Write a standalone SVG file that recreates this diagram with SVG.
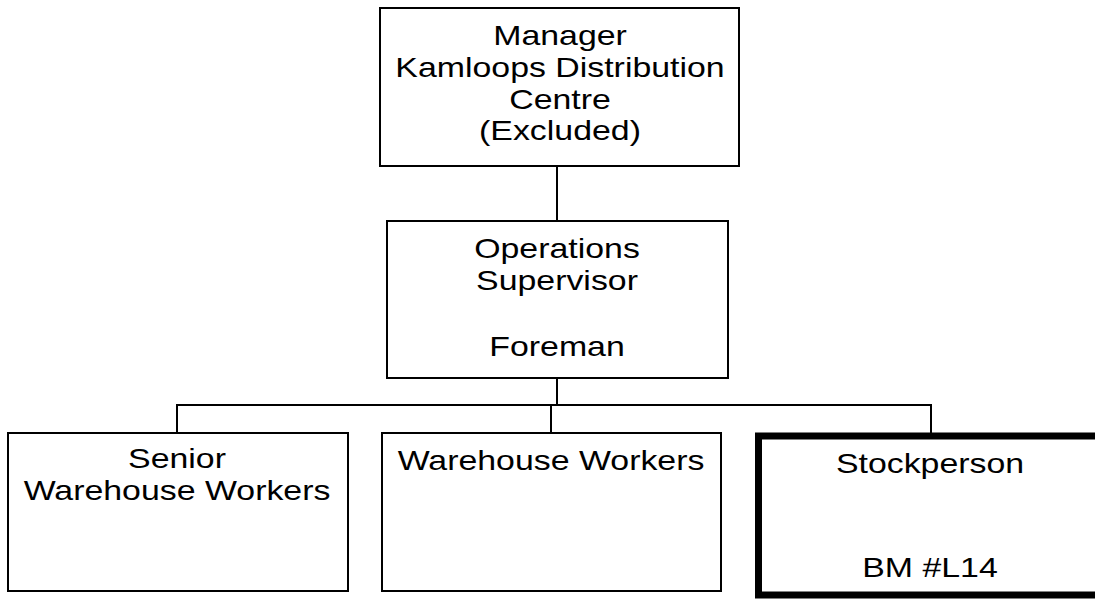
<svg xmlns="http://www.w3.org/2000/svg" width="1095" height="599" viewBox="0 0 1095 599">
<style>
.box{fill:#fff;stroke:#000;stroke-width:2}
.thick{fill:#fff;stroke:#000;stroke-width:7}
.lbl{font-family:"Liberation Sans",Arial,sans-serif;font-size:28px;fill:#000;text-anchor:middle}
.conn{fill:none;stroke:#000;stroke-width:2}
</style>
<rect width="1095" height="599" fill="#fff"/>
<g id="connectors">
<path class="conn" d="M557 166V221"/>
<path class="conn" d="M557 378V405"/>
<path class="conn" d="M177 433V405H931V433"/>
<path class="conn" d="M551 405V433"/>
</g>
<g id="manager">
<rect class="box" x="380" y="8" width="359" height="158"/>
<text class="lbl" transform="translate(560 0) scale(1.21 1)"><tspan x="0" y="45">Manager</tspan><tspan x="0" y="77">Kamloops Distribution</tspan><tspan x="0" y="109">Centre</tspan><tspan x="0" y="140">(Excluded)</tspan></text>
</g>
<g id="ops">
<rect class="box" x="387" y="221" width="341" height="157"/>
<text class="lbl" transform="translate(557 0) scale(1.21 1)"><tspan x="0" y="258">Operations</tspan><tspan x="0" y="290">Supervisor</tspan><tspan x="0" y="356">Foreman</tspan></text>
</g>
<g id="senior">
<rect class="box" x="8" y="433" width="340" height="158"/>
<text class="lbl" transform="translate(177 0) scale(1.21 1)"><tspan x="0" y="468">Senior</tspan><tspan x="0" y="500">Warehouse Workers</tspan></text>
</g>
<g id="warehouse">
<rect class="box" x="382" y="433" width="339" height="158"/>
<text class="lbl" transform="translate(551 0) scale(1.21 1)"><tspan x="0" y="470">Warehouse Workers</tspan></text>
</g>
<g id="stockperson">
<rect class="thick" x="758.5" y="436" width="380" height="159"/>
<text class="lbl" transform="translate(930 0) scale(1.21 1)"><tspan x="0" y="473">Stockperson</tspan><tspan x="0" y="577">BM #L14</tspan></text>
</g>
</svg>
